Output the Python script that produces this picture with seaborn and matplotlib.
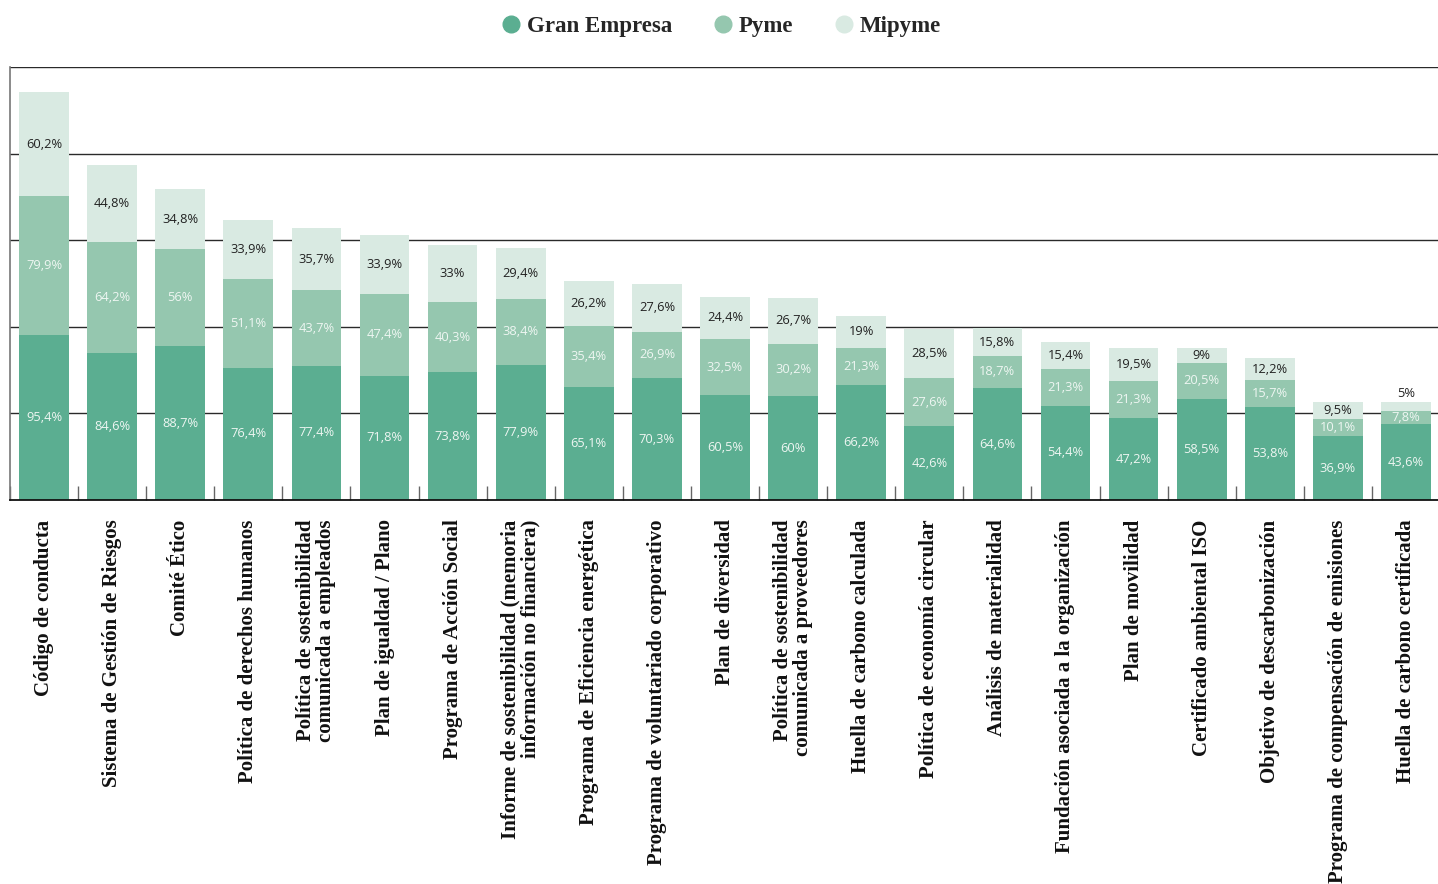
import numpy as np
import pandas as pd
import matplotlib
matplotlib.use("Agg")
import matplotlib.pyplot as plt
from matplotlib.lines import Line2D
import seaborn as sns

# Datos (% de empresas que disponen de cada herramienta)
categorias = [
    "Código de conducta",
    "Sistema de Gestión de Riesgos",
    "Comité Ético",
    "Política de derechos humanos",
    "Política de sostenibilidad\ncomunicada a empleados",
    "Plan de igualdad / Plano",
    "Programa de Acción Social",
    "Informe de sostenibilidad (memoria\ninformación no financiera)",
    "Programa de Eficiencia energética",
    "Programa de voluntariado corporativo",
    "Plan de diversidad",
    "Política de sostenibilidad\ncomunicada a proveedores",
    "Huella de carbono calculada",
    "Política de economía circular",
    "Análisis de materialidad",
    "Fundación asociada a la organización",
    "Plan de movilidad",
    "Certificado ambiental ISO",
    "Objetivo de descarbonización",
    "Programa de compensación de emisiones",
    "Huella de carbono certificada",
]
gran_empresa = [95.4, 84.6, 88.7, 76.4, 77.4, 71.8, 73.8, 77.9, 65.1, 70.3, 60.5,
                60.0, 66.2, 42.6, 64.6, 54.4, 47.2, 58.5, 53.8, 36.9, 43.6]
pyme = [79.9, 64.2, 56.0, 51.1, 43.7, 47.4, 40.3, 38.4, 35.4, 26.9, 32.5,
        30.2, 21.3, 27.6, 18.7, 21.3, 21.3, 20.5, 15.7, 10.1, 7.8]
mipyme = [60.2, 44.8, 34.8, 33.9, 35.7, 33.9, 33.0, 29.4, 26.2, 27.6, 24.4,
          26.7, 19.0, 28.5, 15.8, 15.4, 19.5, 9.0, 12.2, 9.5, 5.0]

series = ["Gran Empresa", "Pyme", "Mipyme"]
COLORES = ["#5bae91", "#95c7af", "#d9eae2"]
TXT_COLORES = ["#eef6f2", "#eef6f2", "#222222"]

SERIF = ["Liberation Serif", "DejaVu Serif"]
SANS = ["Open Sans", "DejaVu Sans"]


def fmt(v):
    return f"{v:g}".replace(".", ",") + "%"


df = pd.DataFrame({"cat": categorias, "gran": gran_empresa,
                   "pyme": pyme, "mipyme": mipyme})
df["c1"] = df["gran"]
df["c2"] = df["c1"] + df["pyme"]
df["c3"] = df["c2"] + df["mipyme"]

sns.set_theme(style="white")
plt.rcParams["font.family"] = SANS

fig = plt.figure(figsize=(14.38, 8.84), dpi=100)
ax = fig.add_axes([10 / 1438, 384 / 884, 1430 / 1438, 433 / 884])

# barras apiladas: se dibuja el acumulado de arriba hacia abajo
for col, color in zip(["c3", "c2", "c1"], COLORES[::-1]):
    sns.barplot(data=df, x="cat", y=col, color=color, saturation=1,
                width=0.73, linewidth=0, ax=ax, zorder=2)

# etiquetas de valores
for i, row in df.iterrows():
    base = 0
    for j, key in enumerate(["gran", "pyme", "mipyme"]):
        v = row[key]
        if v < 6:
            ax.text(i, base + v + 1.2, fmt(v), ha="center", va="bottom",
                    fontsize=9.3, color=TXT_COLORES[j], zorder=3)
        else:
            ax.text(i, base + v / 2, fmt(v), ha="center", va="center",
                    fontsize=9.3, color=TXT_COLORES[j], zorder=3)
        base += v

ax.set_xlim(-0.5, 20.5)
ax.set_ylim(0, 250)
ax.set_yticks([50, 100, 150, 200, 250])
ax.set_yticklabels([])
ax.yaxis.grid(True, color="#2a2a2a", linewidth=1)
ax.set_axisbelow(True)
ax.tick_params(axis="y", length=0)
ax.set_xlabel("")
ax.set_ylabel("")

for s in ["top", "right"]:
    ax.spines[s].set_visible(False)
ax.spines["left"].set_color("#777777")
ax.spines["left"].set_linewidth(1.2)
ax.spines["bottom"].set_color("#111111")
ax.spines["bottom"].set_linewidth(1.3)

ax.set_xticks(range(len(categorias)))
ax.set_xticklabels(categorias, rotation=90, ha="center", va="top",
                   multialignment="right", family=SERIF, fontweight="bold",
                   fontsize=15, color="#111111", linespacing=1.0)
ax.tick_params(axis="x", which="major", length=0, pad=14)
ax.set_xticks(np.arange(-0.5, len(categorias), 1), minor=True)
ax.tick_params(axis="x", which="minor", direction="in", length=10,
               width=1, color="#666666", bottom=True)

handles = [Line2D([], [], marker="o", linestyle="", markersize=12,
                  markerfacecolor=c, markeredgecolor=c) for c in COLORES]
fig.legend(handles, series, loc="upper center", bbox_to_anchor=(0.5, 0.998),
           ncol=3, frameon=False, handletextpad=0.1, columnspacing=1.6,
           handlelength=1.2, borderaxespad=0.2,
           prop={"family": SERIF, "weight": "bold", "size": 16.5})

fig.savefig("out.png", dpi=100)
